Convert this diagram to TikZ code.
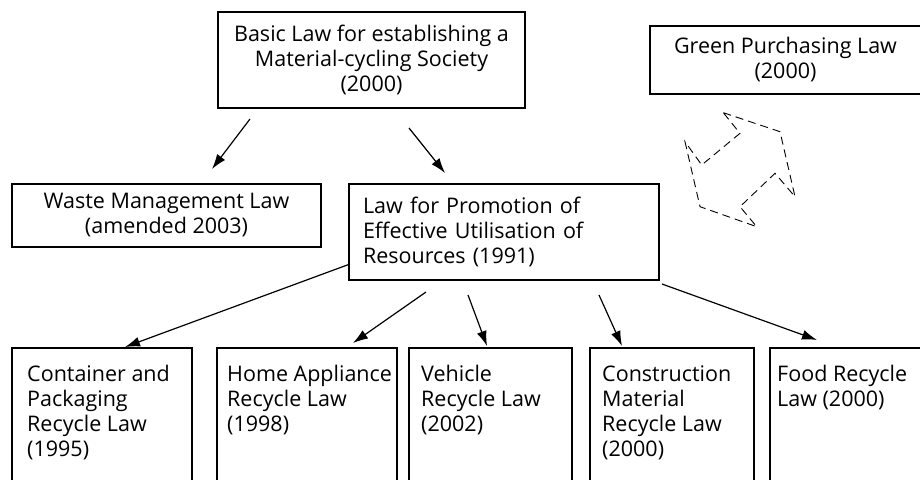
\documentclass[tikz,border=0pt]{standalone}
\usepackage{fontspec}
\setmainfont{Open Sans}
\usetikzlibrary{arrows.meta}
\newcommand{\lawfont}{\fontsize{21.5}{25}\selectfont}
\begin{document}
\begin{tikzpicture}[x=1pt,y=-1pt,
  box/.style={draw, line width=1.2pt, inner sep=0pt, font=\lawfont, text=black},
  toptext/.style={box, align=center},
  lbl/.style={inner sep=0pt, anchor=base west, font=\lawfont, text=black},
  arr/.style={line width=1.2pt, -{Latex[length=15pt,width=10pt]}},
  dsh/.style={line width=0.9pt, dash pattern=on 8pt off 5pt}]
\clip (0,0) rectangle (920,479);
\fill[white] (0,0) rectangle (920,479);
% top boxes
\node[toptext, minimum width=307pt, minimum height=96pt] (basic) at (371.5,60)
  {Basic Law for establishing a\\Material-cycling Society\\(2000)};
\node[toptext, minimum width=271pt, minimum height=68pt] (green) at (785.5,60)
  {Green Purchasing Law\\(2000)};
\node[toptext, minimum width=309pt, minimum height=63pt] (waste) at (166.5,215.5)
  {Waste Management Law\\(amended 2003)};
\node[box, align=left, text width=282pt, inner xsep=14pt, minimum height=96pt] (prom) at (504,232)
  {Law for Promotion of\\Effective Utilisation of\\Resources (1991)};
% bottom boxes
\node[box, minimum width=180pt, minimum height=152pt] (cont) at (102,424) {};
\node[box, minimum width=180pt, minimum height=152pt] (home) at (307,424) {};
\node[box, minimum width=163pt, minimum height=152pt] (veh) at (490.5,424) {};
\node[box, minimum width=164pt, minimum height=152pt] (cons) at (672,424) {};
\node[box, minimum width=180pt, minimum height=152pt] (food) at (860,424) {};
\node[lbl] (contt) at (27,381.7) {\parbox[t]{170pt}{Container and\\Packaging\\Recycle Law\\(1995)}};
\node[lbl] (homet) at (227,381.7) {\parbox[t]{170pt}{Home Appliance\\Recycle Law\\(1998)}};
\node[lbl] (veht) at (421,381.7) {\parbox[t]{150pt}{Vehicle\\Recycle Law\\(2002)}};
\node[lbl] (const) at (602,381.7) {\parbox[t]{150pt}{Construction\\Material\\Recycle Law\\(2000)}};
\node[lbl] (foodt) at (777,381.7) {\parbox[t]{150pt}{Food Recycle\\Law (2000)}};
% arrow end points
\coordinate (s1) at (250,119); \coordinate (e1) at (212,169);
\coordinate (s2) at (409,128); \coordinate (e2) at (445,173);
\coordinate (s3) at (350,264); \coordinate (e3) at (125,347);
\coordinate (s4) at (426,292); \coordinate (e4) at (353,343);
\coordinate (s5) at (468,295); \coordinate (e5) at (487,346);
\coordinate (s6) at (599,295); \coordinate (e6) at (622,346);
\coordinate (s7) at (662,284); \coordinate (e7) at (817,340);
\draw[arr] (s1) -- (e1);
\draw[arr] (s2) -- (e2);
\draw[arr] (s3) -- (e3);
\draw[arr] (s4) -- (e4);
\draw[arr] (s5) -- (e5);
\draw[arr] (s6) -- (e6);
\draw[arr] (s7) -- (e7);
% dashed double arrow
\draw[dsh] (723.3,112.7) -- (780,131.7) -- (795,196.7) -- (775,173.3) -- (740,206.7)
  -- (756.7,226.7) -- (700,206.7) -- (685,141.7) -- (701.7,165) -- (740,133.3) -- cycle;
\end{tikzpicture}
\end{document}
